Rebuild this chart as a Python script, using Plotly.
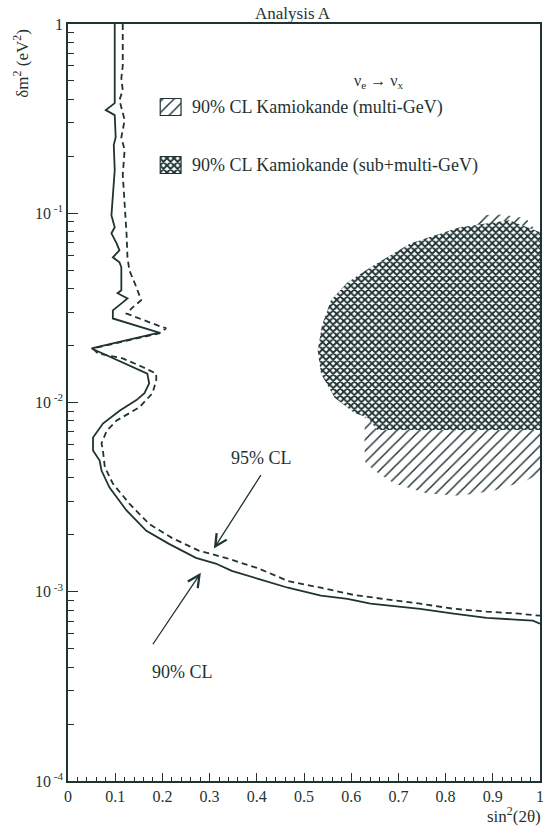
import plotly.graph_objects as go
import numpy as np

# ---------------- data ----------------
# 90% CL exclusion contour (solid)
SOLID_X = [0.099, 0.099, 0.099, 0.080, 0.099, 0.101, 0.097, 0.099, 0.095, 0.092, 0.099, 0.092,
           0.103, 0.109, 0.095, 0.109, 0.113, 0.113, 0.105, 0.120, 0.126, 0.116, 0.095, 0.095,
           0.193, 0.050, 0.168, 0.172, 0.162, 0.145, 0.110, 0.074, 0.053, 0.053, 0.067, 0.071,
           0.088, 0.124, 0.166, 0.214, 0.271, 0.313, 0.347, 0.403, 0.466, 0.536, 0.592, 0.641,
           0.746, 0.817, 0.887, 0.956, 0.985, 1.0]
SOLID_Y = [1.0, 0.60, 0.382, 0.351, 0.330, 0.252, 0.229, 0.169, 0.117, 0.0975, 0.0843, 0.0783,
           0.0693, 0.0637, 0.0585, 0.0551, 0.0518, 0.0392, 0.0378, 0.0360, 0.0355, 0.0338, 0.0307, 0.0278,
           0.0234, 0.0193, 0.0142, 0.0126, 0.0112, 0.0103, 0.00908, 0.00774, 0.00653, 0.00557, 0.00493, 0.00437,
           0.00355, 0.00269, 0.00210, 0.00179, 0.00151, 0.00141, 0.00129, 0.00117, 0.00105, 0.000953, 0.000918, 0.000865,
           0.000813, 0.000766, 0.000728, 0.000711, 0.000703, 0.000678]

# 95% CL exclusion contour (dashed)
DASH_X = [0.116, 0.116, 0.113, 0.116, 0.109, 0.120, 0.113, 0.120, 0.116, 0.120, 0.124, 0.126,
          0.130, 0.145, 0.155, 0.137, 0.124, 0.200, 0.208, 0.193, 0.053, 0.063, 0.116, 0.158,
          0.187, 0.187, 0.179, 0.151, 0.103, 0.082, 0.071, 0.074, 0.078, 0.095, 0.130, 0.172,
          0.221, 0.277, 0.334, 0.403, 0.466, 0.502, 0.536, 0.607, 0.676, 0.746, 0.817, 0.887,
          0.956, 1.0]
DASH_Y = [1.0, 0.60, 0.518, 0.447, 0.396, 0.311, 0.252, 0.216, 0.160, 0.117, 0.0783, 0.0585,
          0.0499, 0.0406, 0.0347, 0.0318, 0.0295, 0.0250, 0.0247, 0.0232, 0.0193, 0.0182, 0.0171, 0.0154,
          0.0142, 0.0131, 0.0112, 0.00942, 0.00803, 0.00709, 0.00608, 0.00557, 0.00456, 0.00373, 0.00292, 0.00228,
          0.00192, 0.00165, 0.00151, 0.00133, 0.00114, 0.00109, 0.00105, 0.000960, 0.000914, 0.000865, 0.000813, 0.000785,
          0.000766, 0.000747]

# Kamiokande multi-GeV allowed region (single hatch)
MULTI_X = [0.63, 0.628, 0.630, 0.649, 0.691, 0.761, 0.830, 0.901, 0.971, 1.0, 1.0, 0.97, 0.92, 0.87, 0.85, 0.70, 0.63]
MULTI_Y = [0.0120, 0.00592, 0.00482, 0.00437, 0.00373, 0.00330, 0.00322, 0.00342, 0.00387, 0.00421,
           0.076, 0.0940, 0.0985, 0.0975, 0.082, 0.045, 0.0120]

# Kamiokande sub+multi-GeV allowed region (cross hatch)
SUBMULTI_X = [0.529, 0.538, 0.557, 0.592, 0.641, 0.725, 0.830, 0.935, 1.0, 1.0, 0.655, 0.634, 0.607, 0.565, 0.536, 0.529]
SUBMULTI_Y = [0.0188, 0.0255, 0.0347, 0.0431, 0.0518, 0.0693, 0.0843, 0.0918, 0.0794, 0.00716,
              0.00716, 0.00833, 0.00879, 0.0106, 0.0142, 0.0188]

X_TICKS = [0.0, 0.1, 0.2, 0.3, 0.4, 0.5, 0.6, 0.7, 0.8, 0.9, 1.0]
X_TICKTEXT = ["0", "0.1", "0.2", "0.3", "0.4", "0.5", "0.6", "0.7", "0.8", "0.9", "1"]
Y_TICKS = [1e-4, 1e-3, 1e-2, 1e-1, 1.0]
Y_TICKTEXT = ["10<sup> -4</sup>", "10<sup> -3</sup>", "10<sup> -2</sup>", "10<sup> -1</sup>", "1"]
LEGEND_LABELS = ["90% CL Kamiokande (multi-GeV)", "90% CL Kamiokande (sub+multi-GeV)"]

# ---------------- style / layout ----------------
INK = "#1f3333"
FONT = "Liberation Serif, Times New Roman, serif"
W, H = 550, 827
L, R, T, B = 68, 6, 24, 46
PX_LEFT, PX_RIGHT, PX_TOP, PX_BOTTOM = L, W - R, T, H - B

HATCH_SINGLE = dict(shape="/", size=8, solidity=0.18)
HATCH_CROSS = dict(shape="x", size=5, solidity=0.62)

fig = go.Figure()

fig.add_trace(go.Scatter(
    x=MULTI_X, y=MULTI_Y, mode="none", fill="toself", showlegend=False,
    fillcolor="white",
    fillpattern=dict(fgcolor=INK, bgcolor="white", fillmode="replace", **HATCH_SINGLE),
    hoverinfo="skip"))
fig.add_trace(go.Scatter(
    x=SUBMULTI_X, y=SUBMULTI_Y, mode="none", fill="toself", showlegend=False,
    fillcolor="white",
    fillpattern=dict(fgcolor=INK, bgcolor="white", fillmode="replace", **HATCH_CROSS),
    hoverinfo="skip"))
fig.add_trace(go.Scatter(
    x=DASH_X, y=DASH_Y, mode="lines", showlegend=False,
    line=dict(color=INK, width=1.8, dash="6px,4px")))
fig.add_trace(go.Scatter(
    x=SOLID_X, y=SOLID_Y, mode="lines", showlegend=False,
    line=dict(color=INK, width=1.8)))

# ---- hand-drawn legend on a pixel-space overlay subplot ----
SW_X0, SW_W, SW_H = 161, 21, 17
LEG_ROWS = [107, 165]
LEG_PATTERNS = [HATCH_SINGLE, HATCH_CROSS]
for lab, yc, pat in zip(LEGEND_LABELS, LEG_ROWS, LEG_PATTERNS):
    bx = [SW_X0, SW_X0 + SW_W, SW_X0 + SW_W, SW_X0, SW_X0]
    by = [yc - SW_H / 2, yc - SW_H / 2, yc + SW_H / 2, yc + SW_H / 2, yc - SW_H / 2]
    fig.add_trace(go.Scatter(
        x=bx, y=by, xaxis="x2", yaxis="y2", mode="lines", fill="toself", showlegend=False,
        line=dict(color=INK, width=1.2), fillcolor="white",
        fillpattern=dict(fgcolor=INK, bgcolor="white", fillmode="replace", **pat),
        hoverinfo="skip"))
    fig.add_annotation(x=SW_X0 + SW_W + 9, y=yc, xref="x2", yref="y2", text=lab,
                       showarrow=False, xanchor="left", yanchor="middle",
                       font=dict(family=FONT, size=18, color=INK))

fig.add_annotation(x=381, y=81, xref="x2", yref="y2",
                   text="ν<sub>e</sub> → ν<sub>x</sub>", showarrow=False,
                   xanchor="center", yanchor="middle",
                   font=dict(family=FONT, size=16, color=INK))

# ---- CL arrows + labels ----
fig.add_annotation(x=0.309, y=np.log10(0.00169), xref="x", yref="y", text="",
                   showarrow=True, ax=48, ay=-75, arrowhead=5, arrowsize=1.8,
                   arrowwidth=1.3, arrowcolor=INK, standoff=0)
fig.add_annotation(x=0.410, y=np.log10(0.00512), xref="x", yref="y", text="95% CL",
                   showarrow=False, xanchor="center", yanchor="middle",
                   font=dict(family=FONT, size=18, color=INK))
fig.add_annotation(x=0.2815, y=np.log10(0.00126), xref="x", yref="y", text="",
                   showarrow=True, ax=-49, ay=73, arrowhead=5, arrowsize=1.8,
                   arrowwidth=1.3, arrowcolor=INK, standoff=0)
fig.add_annotation(x=0.242, y=np.log10(0.000375), xref="x", yref="y", text="90% CL",
                   showarrow=False, xanchor="center", yanchor="middle",
                   font=dict(family=FONT, size=18, color=INK))

# ---- titles ----
fig.add_annotation(x=0.477, y=1.0, xref="paper", yref="paper", text="Analysis A",
                   showarrow=False, xanchor="center", yanchor="bottom", yshift=-1,
                   font=dict(family=FONT, size=17, color=INK))
fig.add_annotation(x=-0.099, y=0.948, xref="paper", yref="paper",
                   text="δm<sup>2</sup> (eV<sup>2</sup>)", textangle=-90, showarrow=False,
                   xanchor="center", yanchor="middle",
                   font=dict(family=FONT, size=17, color=INK))
fig.add_annotation(x=1.006, y=-0.045, xref="paper", yref="paper",
                   text="sin<sup>2</sup>(2θ)", showarrow=False, xanchor="right", yanchor="middle",
                   font=dict(family=FONT, size=17, color=INK))

minor_y = [k * 10.0 ** e for e in range(-4, 0) for k in range(2, 10)]

fig.update_layout(
    width=W, height=H,
    margin=dict(l=L, r=R, t=T, b=B),
    paper_bgcolor="white", plot_bgcolor="rgba(0,0,0,0)",
    font=dict(family=FONT, color=INK, size=16),
    showlegend=False,
    xaxis=dict(range=[0, 1], tickmode="array", tickvals=X_TICKS, ticktext=X_TICKTEXT,
               ticks="inside", ticklen=8, tickwidth=1.2, tickcolor=INK,
               showline=True, linecolor=INK, linewidth=1.5, mirror=True,
               showgrid=False, zeroline=False,
               minor=dict(dtick=0.02, tick0=0, ticks="inside", ticklen=4, tickwidth=1, tickcolor=INK, showgrid=False),
               tickfont=dict(family=FONT, size=16, color=INK)),
    yaxis=dict(type="log", range=[-4, 0], tickmode="array", tickvals=Y_TICKS, ticktext=Y_TICKTEXT,
               ticks="inside", ticklen=10, tickwidth=1.2, tickcolor=INK,
               showline=True, linecolor=INK, linewidth=1.5, mirror=True,
               showgrid=False, zeroline=False,
               minor=dict(tickmode="array", tickvals=minor_y, ticks="inside", ticklen=6, tickwidth=1, tickcolor=INK, showgrid=False),
               tickfont=dict(family=FONT, size=16, color=INK)),
    xaxis2=dict(domain=[0, 1], range=[PX_LEFT, PX_RIGHT], anchor="y2", visible=False, fixedrange=True),
    yaxis2=dict(domain=[0, 1], range=[PX_BOTTOM, PX_TOP], anchor="x2", visible=False, fixedrange=True),
)

fig.write_html("out.html")
